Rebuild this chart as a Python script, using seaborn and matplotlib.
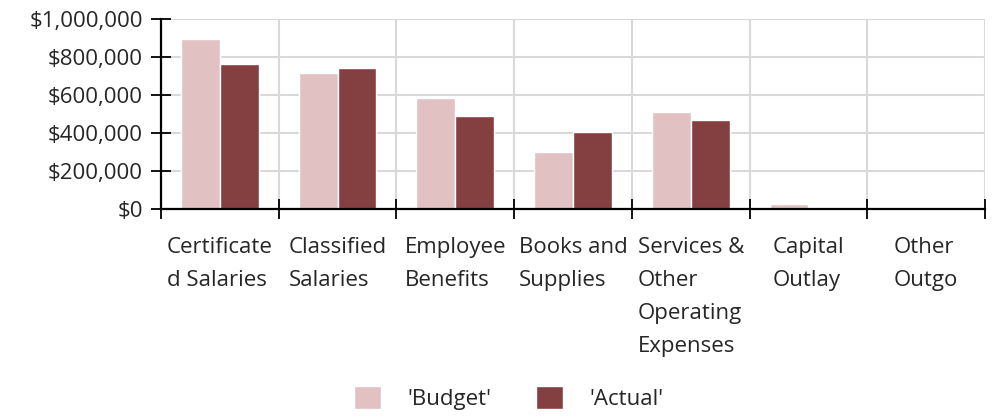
import numpy as np
import pandas as pd
import matplotlib
matplotlib.use("Agg")
import matplotlib.pyplot as plt
import seaborn as sns
from matplotlib.ticker import FuncFormatter

categories = ["Certificate\nd Salaries", "Classified\nSalaries", "Employee\nBenefits",
              "Books and\nSupplies", "Services &\nOther\nOperating\nExpenses",
              "Capital\nOutlay", "Other\nOutgo"]
budget = [893000, 717000, 586000, 302000, 509000, 27000, 0]
actual = [763000, 744000, 491000, 407000, 470000, 0, 0]
series = ["'Budget'", "'Actual'"]
colors = ["#e2c1c3", "#843f40"]

df = pd.DataFrame({
    "category": categories * 2,
    "series": [series[0]] * len(categories) + [series[1]] * len(categories),
    "value": budget + actual,
})

sns.set_style("white")
plt.rcParams["font.family"] = ["Open Sans", "DejaVu Sans"]
fs = 16

fig = plt.figure(figsize=(9.92, 4.18), dpi=100)
ax = fig.add_axes([0.1623, 0.5, 0.8307, 0.4545])

sns.barplot(data=df, x="category", y="value", hue="series", palette=colors,
            width=0.66, saturation=1, ax=ax, legend=True)

n = len(categories)
ax.set_xlim(-0.5, n - 0.5)
ax.set_ylim(0, 1000000)
ax.set_yticks(np.arange(0, 1000001, 200000))
ax.yaxis.set_major_formatter(FuncFormatter(lambda v, p: f"${v:,.0f}"))

# boundaries get tick marks + gridlines; labels are centred blocks, left-justified lines
ax.set_xticks(np.arange(-0.5, n, 1.0))
ax.set_xticklabels([])
ax.set_xticks(np.arange(n), minor=True)
ax.set_xticklabels(categories, minor=True, ha="center", va="top", multialignment="left",
                   fontsize=fs, linespacing=1.75)
ax.tick_params(axis="x", which="minor", bottom=False, length=0, pad=20)
ax.tick_params(axis="x", which="major", bottom=True, direction="inout", length=14,
               width=1.3, color="black")
ax.tick_params(axis="y", left=True, direction="inout", length=14, width=1.3, color="black",
               labelsize=fs, pad=6)

ax.grid(True, which="major", color="#d9d9d9", linewidth=1.5)
ax.set_axisbelow(True)
for s in ["top", "right"]:
    ax.spines[s].set_visible(False)
for s in ["left", "bottom"]:
    ax.spines[s].set_color("black")
    ax.spines[s].set_linewidth(1.6)
ax.set_xlabel("")
ax.set_ylabel("")

handles, labels = ax.get_legend_handles_labels()
ax.get_legend().remove()
fig.legend(handles, labels, loc="center", bbox_to_anchor=(0.513, 0.048), ncol=2,
           frameon=False, fontsize=fs, handlelength=1.2, handleheight=1.2,
           handletextpad=1.2, columnspacing=2.0)

fig.savefig("out.png", dpi=100)
